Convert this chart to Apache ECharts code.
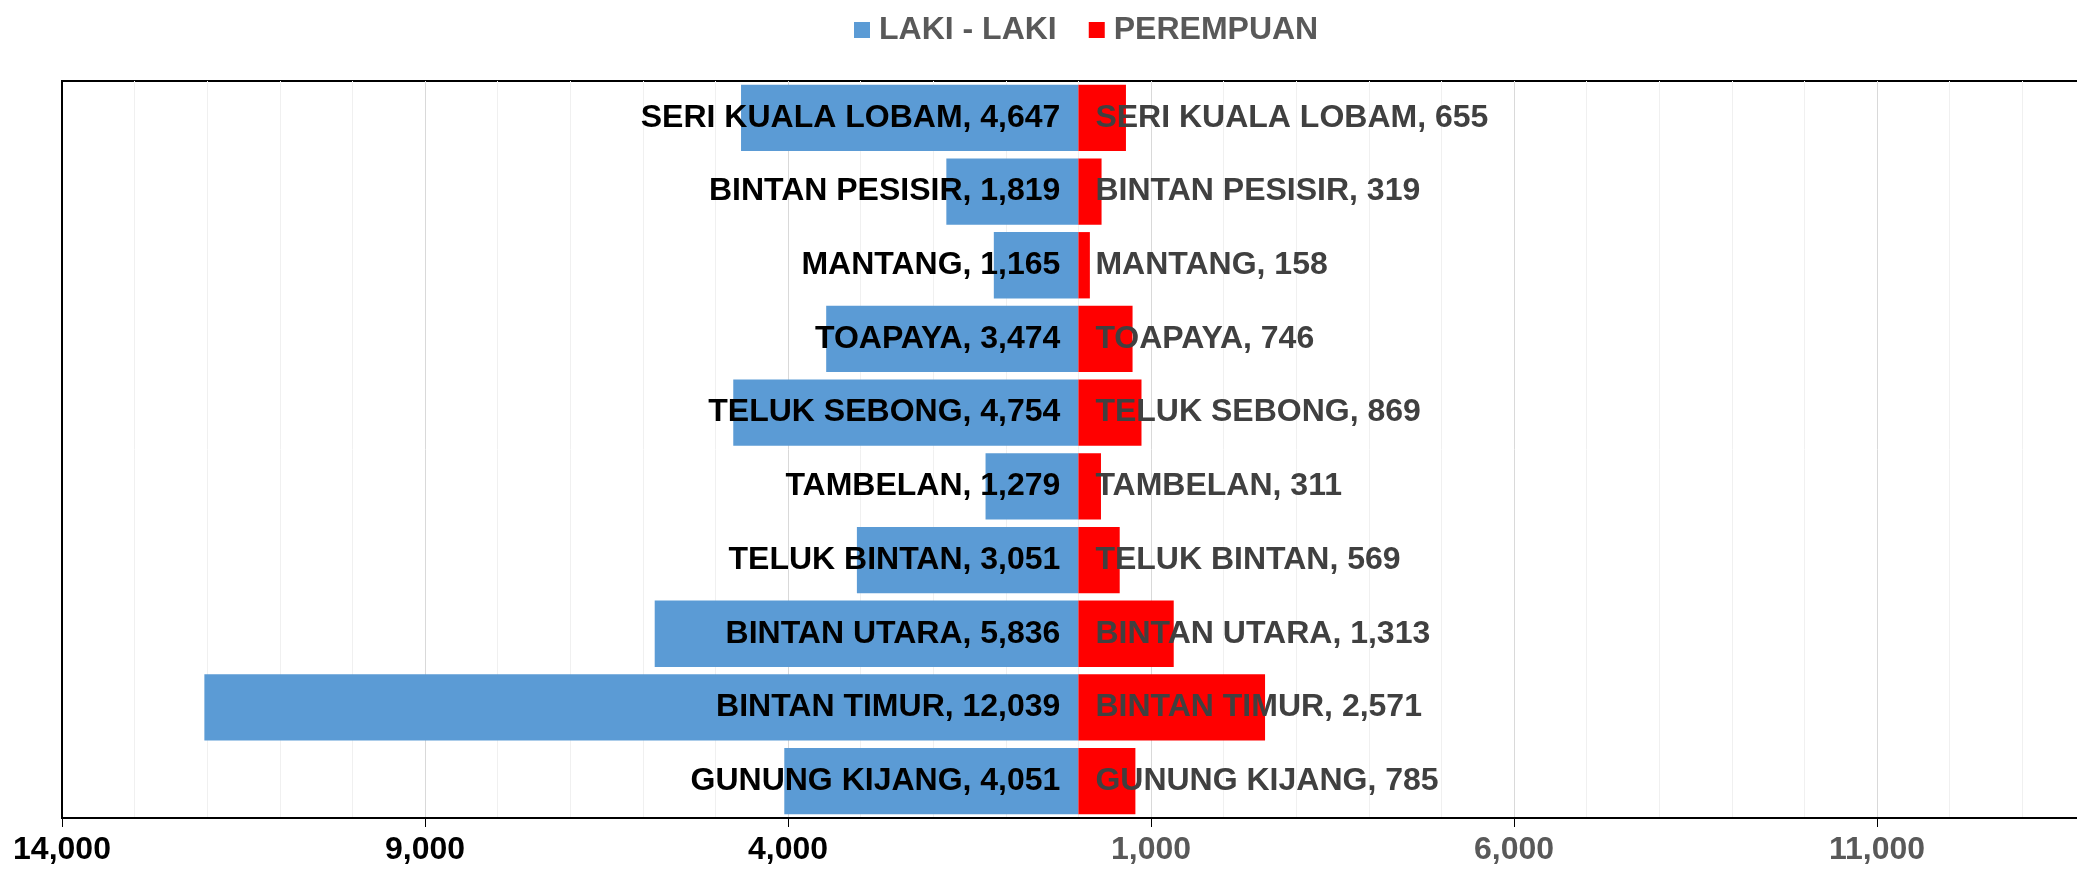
<!DOCTYPE html>
<html>
<head>
<meta charset="utf-8">
<script src="https://cdn.jsdelivr.net/npm/echarts@6/dist/echarts.min.js"></script>
<style>
	html, body { margin: 0; padding: 0; background: #fff; }
	#chart { width: 2077px; height: 873px; }
</style>
</head>
<body>
<div id="chart"></div>
<script>
var kecamatan = [ 'SERI KUALA LOBAM', 'BINTAN PESISIR', 'MANTANG', 'TOAPAYA', 'TELUK SEBONG',
		'TAMBELAN', 'TELUK BINTAN', 'BINTAN UTARA', 'BINTAN TIMUR', 'GUNUNG KIJANG' ];
var lakiLaki = [ 4647, 1819, 1165, 3474, 4754, 1279, 3051, 5836, 12039, 4051 ];
var perempuan = [ 655, 319, 158, 746, 869, 311, 569, 1313, 2571, 785 ];
var seriesNames = [ 'LAKI - LAKI', 'PEREMPUAN' ];

var FONT = "'Liberation Sans', Arial, sans-serif";

function fmt(v) {
	return Math.abs(v).toLocaleString('en-US');
}

var myChart = echarts.init(document.getElementById('chart'));
var option = {
	animation : false,
	textStyle : {
		fontFamily : FONT
	},
	legend : {
		left : 849,
		top : 9,
		itemWidth : 16,
		itemHeight : 16,
		itemGap : 32,
		icon : 'rect',
		data : seriesNames,
		textStyle : {
			color : '#595959',
			fontSize : 32,
			fontWeight : 'bold',
			fontFamily : FONT,
			padding : [ 0, 0, 0, 4 ]
		}
	},
	grid : {
		show : true,
		outerBoundsMode : 'none',
		containLabel : false,
		left : 62,
		top : 81,
		bottom : 55,
		right : -163, // plot runs past the right edge, as in the cropped original
		borderColor : '#000',
		borderWidth : 2
	},
	xAxis : {
		type : 'value',
		min : -14000,
		max : 16000,
		interval : 5000,
		axisLine : {
			show : true,
			lineStyle : { color : '#000', width : 2 }
		},
		axisTick : {
			show : true,
			length : 9,
			lineStyle : { color : '#000', width : 1 }
		},
		minorTick : { show : false, splitNumber : 5 },
		splitLine : {
			show : true,
			lineStyle : { color : '#d9d9d9', width : 1 }
		},
		minorSplitLine : {
			show : true,
			lineStyle : { color : '#f0f0f0', width : 1 }
		},
		axisLabel : {
			margin : 16,
			fontSize : 32,
			fontWeight : 'bold',
			fontFamily : FONT,
			color : function(value) {
				return value < 0 ? '#000000' : '#595959';
			},
			formatter : function(value) {
				return fmt(value);
			}
		}
	},
	yAxis : {
		type : 'category',
		inverse : true,
		data : kecamatan,
		axisLine : {
			show : true,
			onZero : false,
			lineStyle : { color : '#000', width : 2 }
		},
		axisTick : { show : false },
		axisLabel : { show : false },
		splitLine : { show : false }
	},
	series : [ {
		name : seriesNames[0],
		type : 'bar',
		stack : 'total',
		barCategoryGap : '10%',
		itemStyle : { color : '#5B9BD5' },
		label : {
			show : true,
			position : 'insideRight',
			distance : 18,
			color : '#000000',
			fontSize : 32,
			fontWeight : 'bold',
			fontFamily : FONT,
			formatter : function(p) {
				return p.name + ', ' + fmt(p.value);
			}
		},
		data : lakiLaki.map(function(v) {
			return -v;
		})
	}, {
		name : seriesNames[1],
		type : 'bar',
		stack : 'total',
		barCategoryGap : '10%',
		itemStyle : { color : '#FF0000' },
		label : {
			show : true,
			position : 'insideLeft',
			distance : 17,
			color : '#404040',
			fontSize : 32,
			fontWeight : 'bold',
			fontFamily : FONT,
			formatter : function(p) {
				return p.name + ', ' + fmt(p.value);
			}
		},
		data : perempuan
	} ]
};
myChart.setOption(option);
</script>
</body>
</html>
